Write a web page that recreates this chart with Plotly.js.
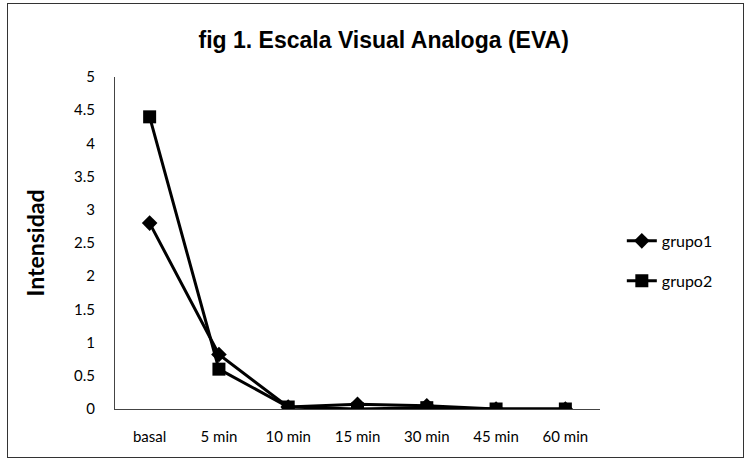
<!DOCTYPE html>
<html>
<head>
<meta charset="utf-8">
<script src="https://cdn.plot.ly/plotly-3.0.1.min.js"></script>
<style>
html,body{margin:0;padding:0;background:#fff;}
#wrap{position:absolute;left:7px;top:3px;width:737px;height:455px;border:1px solid #333;box-sizing:border-box;}
#chart{position:absolute;left:0;top:0;width:745px;height:461px;}
</style>
</head>
<body>
<div id="chart"></div>
<div id="wrap"></div>
<script>
const categories = ["basal","5 min","10 min","15 min","30 min","45 min","60 min"];
const grupo1 = [2.8, 0.82, 0.03, 0.07, 0.05, 0.0, 0.0];
const grupo2 = [4.4, 0.6, 0.03, 0.0, 0.02, 0.0, 0.0];
const yTicks = [0,0.5,1,1.5,2,2.5,3,3.5,4,4.5,5];

const traces = [
  {x: categories, y: grupo1, name: "grupo1", legendgroup: "g1", mode: "lines+markers",
   line: {color: "#000", width: 3}, marker: {symbol: "diamond", size: 12, color: "#000"}},
  {x: categories, y: grupo2, name: "grupo2", legendgroup: "g2", mode: "lines+markers",
   line: {color: "#000", width: 3}, marker: {symbol: "square", size: 13, color: "#000"}}
];

const layout = {
  width: 745, height: 461,
  margin: {l: 115, r: 145, t: 77, b: 52},
  paper_bgcolor: "#fff", plot_bgcolor: "#fff",
  showlegend: true,
  title: {text: "fig 1. Escala Visual Analoga (EVA)", x: 0.515, xanchor: "center", y: 0.913, yanchor: "middle",
          font: {family: "Liberation Sans, Arial", size: 23, color: "#000", weight: "bold"}},
  xaxis: {type: "category", range: [-0.5, 6.5], showgrid: false, zeroline: false,
          showline: true, linecolor: "#444", linewidth: 1, ticks: "", ticklabelstandoff: 14,
          tickfont: {family: "Lato, Open Sans", size: 15, color: "#000"}},
  yaxis: {range: [0, 5], tickvals: yTicks, ticktext: yTicks.map(String), showgrid: false, zeroline: false,
          showline: true, linecolor: "#444", linewidth: 1, ticks: "", ticklabelstandoff: 16,
          tickfont: {family: "Lato, Open Sans", size: 15, color: "#000"},
          title: {text: "Intensidad", standoff: 22, font: {family: "Lato, Open Sans", size: 23, color: "#000", weight: "bold"}}},
  legend: {x: 1.045, y: 0.446, xanchor: "left", yanchor: "middle", tracegroupgap: 16,
           font: {family: "Lato, Open Sans", size: 16, color: "#000"}}
};

Plotly.newPlot("chart", traces, layout, {displayModeBar: false, staticPlot: true});
</script>
</body>
</html>
